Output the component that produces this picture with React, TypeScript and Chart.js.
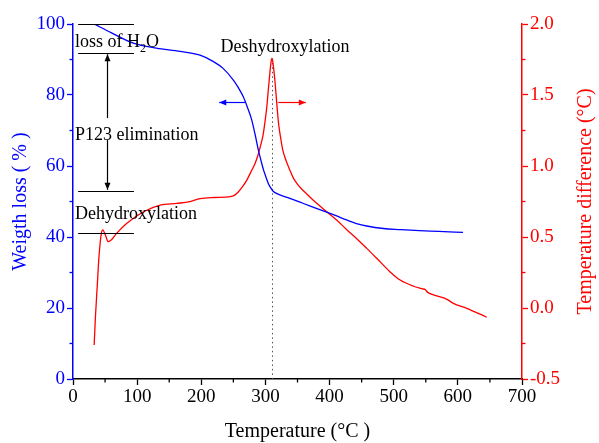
import React, { useEffect, useRef } from "react";
import { Chart, registerables } from "chart.js";
Chart.register(...registerables);

const FONT = "'Liberation Serif', 'Times New Roman', serif";

const tgaTemp = [33, 60, 94, 130, 167, 198, 219, 234, 250, 258, 265.5, 272, 278.6, 284, 289, 293, 297, 301, 304.5, 308, 312, 318, 338, 354, 370, 395.5, 410, 426.6, 442, 458, 484, 510, 540, 570, 608];
const tgaWeight = [100, 97.5, 94.6, 93.2, 92.3, 91.2, 89.4, 87.5, 84.2, 82.0, 79.5, 76.5, 73.0, 68.8, 64.5, 61.6, 58.9, 56.8, 55.1, 53.9, 52.9, 52.2, 50.9, 49.8, 48.7, 47.0, 46.0, 44.8, 43.8, 43.1, 42.4, 42.1, 41.8, 41.6, 41.3];

const dtaTemp = [33, 35, 38, 40, 42, 44, 46.3, 50, 55, 60, 68, 84, 110, 136, 162, 182, 198, 220, 245, 252, 258, 264, 271, 277, 284, 288, 292, 296, 299, 302, 304.5, 307, 309, 310, 311.3, 313, 315, 317, 319, 321, 324, 327, 332, 338, 343, 349, 356, 364, 380, 395.5, 411, 426, 442, 458, 473.5, 494, 510, 530, 545, 549, 553, 562, 583, 593, 614, 645];
const dtaDiff = [-0.26, -0.06, 0.17, 0.33, 0.44, 0.52, 0.55, 0.52, 0.467, 0.48, 0.526, 0.597, 0.678, 0.725, 0.737, 0.749, 0.77, 0.778, 0.784, 0.795, 0.819, 0.853, 0.901, 0.955, 1.02, 1.07, 1.136, 1.21, 1.3, 1.41, 1.535, 1.66, 1.74, 1.758, 1.74, 1.68, 1.59, 1.48, 1.37, 1.28, 1.19, 1.113, 1.04, 0.972, 0.92, 0.878, 0.84, 0.805, 0.737, 0.678, 0.62, 0.555, 0.49, 0.42, 0.35, 0.256, 0.197, 0.155, 0.135, 0.13, 0.11, 0.092, 0.061, 0.033, -0.002, -0.065];

const xTicks = [0, 100, 200, 300, 400, 500, 600, 700];
const yTicks = [0, 20, 40, 60, 80, 100];
const y1Ticks = [-0.5, 0, 0.5, 1.0, 1.5, 2.0];

const peakTemp = 310;
const peakDiff = 1.758;

const stageLines = [100, 91.8, 53.0, 41.2];
const stageLineFrom = 8;
const stageLineTo = 95;

const rightTitle = "Temperature difference (°C)";

const annot = {
  id: "annot",
  beforeDatasetsDraw(chart: any) {
    const { ctx, scales } = chart;
    const x = scales.x, y1 = scales.y1;
    ctx.save();
    ctx.strokeStyle = "#555";
    ctx.lineWidth = 1;
    ctx.setLineDash([1.5, 3]);
    ctx.beginPath();
    const px = Math.round(x.getPixelForValue(peakTemp)) + 0.5;
    ctx.moveTo(px, y1.getPixelForValue(peakDiff));
    ctx.lineTo(px, chart.chartArea.bottom);
    ctx.stroke();
    ctx.restore();
  },
  afterDatasetsDraw(chart: any) {
    const { ctx, scales, chartArea } = chart;
    const x = scales.x, y = scales.y, y1 = scales.y1;
    ctx.save();
    // minor ticks
    ctx.lineWidth = 1.3;
    ctx.strokeStyle = "#000";
    for (let v = 50; v < 700; v += 100) {
      const p = x.getPixelForValue(v);
      ctx.beginPath();
      ctx.moveTo(p, chartArea.bottom);
      ctx.lineTo(p, chartArea.bottom + 3.5);
      ctx.stroke();
    }
    ctx.strokeStyle = "#0000ff";
    for (let v = 10; v < 100; v += 20) {
      const p = y.getPixelForValue(v);
      ctx.beginPath();
      ctx.moveTo(chartArea.left, p);
      ctx.lineTo(chartArea.left - 3.5, p);
      ctx.stroke();
    }
    ctx.strokeStyle = "#ff0000";
    for (let v = -0.25; v < 2; v += 0.5) {
      const p = y1.getPixelForValue(v);
      ctx.beginPath();
      ctx.moveTo(chartArea.right, p);
      ctx.lineTo(chartArea.right + 3.5, p);
      ctx.stroke();
    }
    // right title (reads bottom to top)
    ctx.save();
    ctx.fillStyle = "#ff0000";
    ctx.font = `20px ${FONT}`;
    ctx.textAlign = "center";
    ctx.textBaseline = "middle";
    ctx.translate(586, (chartArea.top + chartArea.bottom) / 2);
    ctx.rotate(-Math.PI / 2);
    ctx.fillText(rightTitle, 0, 0);
    ctx.restore();
    // stage lines
    ctx.strokeStyle = "#000";
    ctx.lineWidth = 1.2;
    for (const w of stageLines) {
      const p = Math.round(y.getPixelForValue(w)) + 0.5;
      ctx.beginPath();
      ctx.moveTo(x.getPixelForValue(stageLineFrom), p);
      ctx.lineTo(x.getPixelForValue(stageLineTo), p);
      ctx.stroke();
    }
    const arrowHead = (ax: number, ay: number, dx: number, dy: number, color: string) => {
      ctx.fillStyle = color;
      ctx.beginPath();
      const L = 7, W = 3;
      ctx.moveTo(ax, ay);
      ctx.lineTo(ax - dx * L - dy * W, ay - dy * L + dx * W);
      ctx.lineTo(ax - dx * L + dy * W, ay - dy * L - dx * W);
      ctx.closePath();
      ctx.fill();
    };
    // vertical arrows
    const ax = Math.round(x.getPixelForValue(53)) + 0.5;
    ctx.beginPath();
    ctx.moveTo(ax, y.getPixelForValue(73.5));
    ctx.lineTo(ax, y.getPixelForValue(91.5));
    ctx.stroke();
    arrowHead(ax, y.getPixelForValue(91.5), 0, -1, "#000");
    ctx.beginPath();
    ctx.moveTo(ax, y.getPixelForValue(67.3));
    ctx.lineTo(ax, y.getPixelForValue(53.3));
    ctx.stroke();
    arrowHead(ax, y.getPixelForValue(53.3), 0, 1, "#000");
    // blue / red arrows
    const ay = Math.round(y.getPixelForValue(78)) + 0.5;
    ctx.strokeStyle = "#0000ff";
    ctx.beginPath();
    ctx.moveTo(x.getPixelForValue(268), ay);
    ctx.lineTo(x.getPixelForValue(228), ay);
    ctx.stroke();
    arrowHead(x.getPixelForValue(228), ay, -1, 0, "#0000ff");
    ctx.strokeStyle = "#ff0000";
    ctx.beginPath();
    ctx.moveTo(x.getPixelForValue(320), ay);
    ctx.lineTo(x.getPixelForValue(363), ay);
    ctx.stroke();
    arrowHead(x.getPixelForValue(363), ay, 1, 0, "#ff0000");
    // texts
    ctx.fillStyle = "#000";
    ctx.font = `18px ${FONT}`;
    ctx.textBaseline = "alphabetic";
    ctx.textAlign = "left";
    const tx = x.getPixelForValue(3);
    const py = y.getPixelForValue(93.6);
    const s1 = "loss of H";
    ctx.fillText(s1, tx, py);
    const w1 = ctx.measureText(s1).width;
    ctx.font = `12px ${FONT}`;
    ctx.fillText("2", tx + w1, py + 5);
    const w2 = ctx.measureText("2").width;
    ctx.font = `18px ${FONT}`;
    ctx.fillText("O", tx + w1 + w2, py);
    ctx.fillText("P123 elimination", tx, y.getPixelForValue(67.2));
    ctx.fillText("Dehydroxylation", tx, y.getPixelForValue(45.0));
    ctx.fillText("Deshydroxylation", x.getPixelForValue(230), y.getPixelForValue(92.2));
    ctx.restore();
  },
};

export default function App() {
  const ref = useRef<HTMLCanvasElement>(null);
  useEffect(() => {
    const tickFont = { family: FONT, size: 19 };
    const titleFont = { family: FONT, size: 20 };
    const chart = new Chart(ref.current!, {
      type: "line",
      data: {
        datasets: [
          {
            label: "TGA",
            data: tgaTemp.map((t, i) => ({ x: t, y: tgaWeight[i] })),
            yAxisID: "y",
            borderColor: "#0000ff",
            borderWidth: 1.3,
            pointRadius: 0,
            cubicInterpolationMode: "monotone",
          },
          {
            label: "DTA",
            data: dtaTemp.map((t, i) => ({ x: t, y: dtaDiff[i] })),
            yAxisID: "y1",
            borderColor: "#ff0000",
            borderWidth: 1.3,
            pointRadius: 0,
            cubicInterpolationMode: "monotone",
          },
        ],
      },
      options: {
        responsive: false,
        animation: false,
        layout: { padding: { top: 24, left: 0, right: 0, bottom: 0 } },
        plugins: { legend: { display: false }, tooltip: { enabled: false } },
        scales: {
          x: {
            type: "linear",
            min: 0,
            max: 700,
            afterBuildTicks: (s: any) => { s.ticks = xTicks.map((v) => ({ value: v })); },
            ticks: { color: "#000", font: tickFont, padding: 1, maxRotation: 0 },
            grid: { drawOnChartArea: false, color: "#000", tickLength: 6, tickWidth: 1.3 },
            border: { color: "#000", width: 1.5 },
            title: { display: true, text: "Temperature (°C )", color: "#000", font: { ...titleFont, lineHeight: 1.1 }, padding: 0 },
            afterFit: (s: any) => { s.height = 64; },
          },
          y: {
            type: "linear",
            position: "left",
            min: 0,
            max: 100,
            afterBuildTicks: (s: any) => { s.ticks = yTicks.map((v) => ({ value: v })); },
            ticks: { color: "#0000ff", font: tickFont, padding: 2 },
            grid: { drawOnChartArea: false, color: "#0000ff", tickLength: 6, tickWidth: 1.3 },
            border: { color: "#0000ff", width: 1.5 },
            title: { display: true, text: "Weigth loss ( % )", color: "#0000ff", font: { ...titleFont, lineHeight: 1.2 }, padding: { top: 9, bottom: 0 } },
            afterFit: (s: any) => { s.width = 73; },
          },
          y1: {
            type: "linear",
            position: "right",
            min: -0.5,
            max: 2.0,
            afterBuildTicks: (s: any) => { s.ticks = y1Ticks.map((v) => ({ value: v })); },
            ticks: { color: "#ff0000", font: tickFont, padding: 2, callback: (v: any) => Number(v).toFixed(1) },
            grid: { drawOnChartArea: false, color: "#ff0000", tickLength: 6, tickWidth: 1.3 },
            border: { color: "#ff0000", width: 1.5 },
            title: { display: false },
            afterFit: (s: any) => { s.width = 77; },
          },
        },
      } as any,
      plugins: [annot],
    });
    return () => chart.destroy();
  }, []);
  return (
    <div style={{ position: "absolute", left: 0, top: 0, width: 599, height: 443, background: "#fff" }}>
      <canvas ref={ref} width={599} height={443} style={{ width: 599, height: 443 }} />
    </div>
  );
}
